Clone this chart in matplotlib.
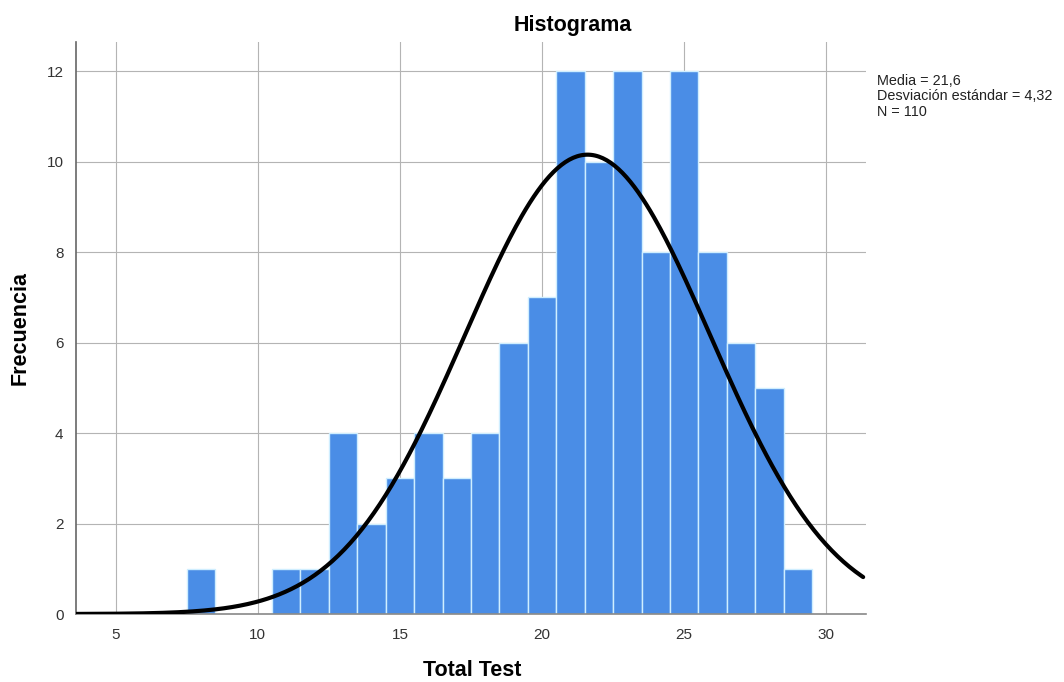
import numpy as np
import matplotlib
matplotlib.use('Agg')
import matplotlib.pyplot as plt

plt.rcParams['font.family'] = ['Liberation Sans', 'DejaVu Sans']

# Histogram bins (centre of each 1-point bin) and frequencies
bin_centres = [8, 11, 12, 13, 14, 15, 16, 17, 18, 19, 20, 21, 22, 23, 24, 25, 26, 27, 28, 29]
counts = [1, 1, 1, 4, 2, 3, 4, 3, 4, 6, 7, 12, 10, 12, 8, 12, 8, 6, 5, 1]

mean = 21.6
std = 4.32
n_obs = 110
bin_width = 1.0

x_ticks = [5, 10, 15, 20, 25, 30]
y_ticks = [0, 2, 4, 6, 8, 10, 12]

BAR_COLOUR = '#4a8de6'
GRID_COLOUR = '#b4b4b4'

fig = plt.figure(figsize=(10.64, 6.82), dpi=100)
ax = fig.add_axes([76 / 1064, 1 - 614 / 682, (866 - 76) / 1064, (614 - 42) / 682])

ax.set_axisbelow(True)
ax.grid(True, color=GRID_COLOUR, linewidth=0.8)
ax.bar(bin_centres, counts, width=bin_width, color=BAR_COLOUR,
       edgecolor='#cfeeff', linewidth=1.0, zorder=2)

# normal curve scaled to counts
xs = np.linspace(3.6, 31.3, 400)
ys = n_obs * bin_width / (std * np.sqrt(2 * np.pi)) * np.exp(-0.5 * ((xs - mean) / std) ** 2)
ax.plot(xs, ys, color='black', linewidth=3, zorder=3, solid_capstyle='round')

ax.set_xlim(3.6, 31.4)
ax.set_ylim(0, 12.65)
ax.set_xticks(x_ticks)
ax.set_yticks(y_ticks)
ax.tick_params(length=0, labelsize=11, colors='#333333')
ax.tick_params(axis='x', pad=10)
ax.tick_params(axis='y', pad=9)

for side in ['top', 'right']:
    ax.spines[side].set_visible(False)
ax.spines['left'].set_color('#666666')
ax.spines['bottom'].set_color('#888888')
ax.spines['left'].set_linewidth(1.2)
ax.spines['bottom'].set_linewidth(1.2)

# axis labels and title placed in figure pixels
fig.text(472 / 1064, 1 - 671 / 682, 'Total Test', ha='center', va='center',
         fontsize=15.5, fontweight='bold')
fig.text(20 / 1064, 1 - 328 / 682, 'Frecuencia', ha='center', va='center',
         rotation=90, fontsize=15.5, fontweight='bold')
fig.text(573 / 1064, 1 - 25 / 682, 'Histograma', ha='center', va='center',
         fontsize=15.5, fontweight='bold')
fig.text(877 / 1064, 1 - 74 / 682,
         f'Media = {str(mean).replace(".", ",")}\n'
         f'Desviación estándar = {str(std).replace(".", ",")}\n'
         f'N = {n_obs}',
         ha='left', va='top', fontsize=10.4, linespacing=1.12, color='#222222')

fig.savefig('out.png', dpi=100, facecolor='white')
